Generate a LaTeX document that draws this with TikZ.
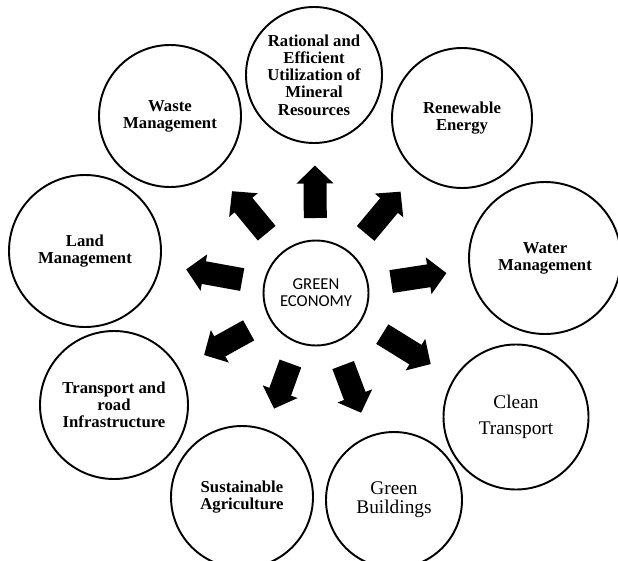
\documentclass[tikz,border=0pt]{standalone}
\usepackage{fontspec}
\setmainfont{Liberation Serif}
\newfontfamily\ecofont{Carlito}
\usepackage{tikz}
\usetikzlibrary{calc}
\usetikzlibrary{arrows.meta}

\begin{document}
\begin{tikzpicture}[
    area/.style={draw, circle, line width=1.1pt, align=center, inner sep=0pt, font=\fontsize{9.5}{9.8}\selectfont\bfseries},
    blockarrow/.style={line width=0.46cm, -{Triangle[width=0.72cm,length=0.36cm]}}]
            \useasboundingbox (0,0) rectangle (12.36,-11.2);
            \node[draw, circle, line width=1.1pt, minimum size=2.1cm, align=center, font=\ecofont\fontsize{9.5}{9.6}\selectfont] (eco) at (6.32,-5.86) {GREEN\\ECONOMY};
            \node[area, minimum size=2.72cm] (mineral) at (6.28,-1.5) {Rational and\\Efficient\\Utilization of\\Mineral\\Resources};
            \node[area, minimum size=2.84cm] (waste) at (3.4,-2.32) {Waste\\Management};
            \node[area, minimum size=2.8cm] (energy) at (9.24,-2.36) {Renewable\\Energy};
            \node[area, minimum size=3.04cm] (water) at (10.9,-5.16) {Water\\Management};
            \node[area, minimum size=3.04cm] (land) at (1.7,-5.02) {Land\\Management};
            \node[area, minimum size=2.96cm] (road) at (2.28,-8.1) {Transport and\\road\\Infrastructure};
            \node[area, minimum size=2.84cm] (agri) at (4.84,-9.94) {Sustainable\\Agriculture};
            \node[area, minimum size=2.72cm, font=\fontsize{11}{10.8}\selectfont] (build) at (7.88,-10.0) {Green\\Buildings};
            \node[area, minimum size=2.9cm, font=\fontsize{11}{14.7}\selectfont] (clean) at (10.32,-8.34) {Clean\\Transport};
            
            \draw[blockarrow] ($(eco)!1.5cm!(mineral)$) -- ($(eco)!2.55cm!(mineral)$);
            \draw[blockarrow] ($(eco)!1.55cm!(waste)$) -- ($(eco)!2.64cm!(waste)$);
            \draw[blockarrow] ($(eco)!1.55cm!(energy)$) -- ($(eco)!2.64cm!(energy)$);
            \draw[blockarrow] ($(eco)!1.52cm!(water)$) -- ($(eco)!2.64cm!(water)$);
            \draw[blockarrow] ($(eco)!1.5cm!(land)$) -- ($(eco)!2.64cm!(land)$);
            \draw[blockarrow] ($(eco)!1.54cm!(road)$) -- ($(eco)!2.56cm!(road)$);
            \draw[blockarrow] ($(eco)!1.5cm!(agri)$) -- ($(eco)!2.46cm!(agri)$);
            \draw[blockarrow] ($(eco)!1.54cm!(build)$) -- ($(eco)!2.56cm!(build)$);
            \draw[blockarrow] ($(eco)!1.56cm!(clean)$) -- ($(eco)!2.7cm!(clean)$);
        \end{tikzpicture}
\end{document}
